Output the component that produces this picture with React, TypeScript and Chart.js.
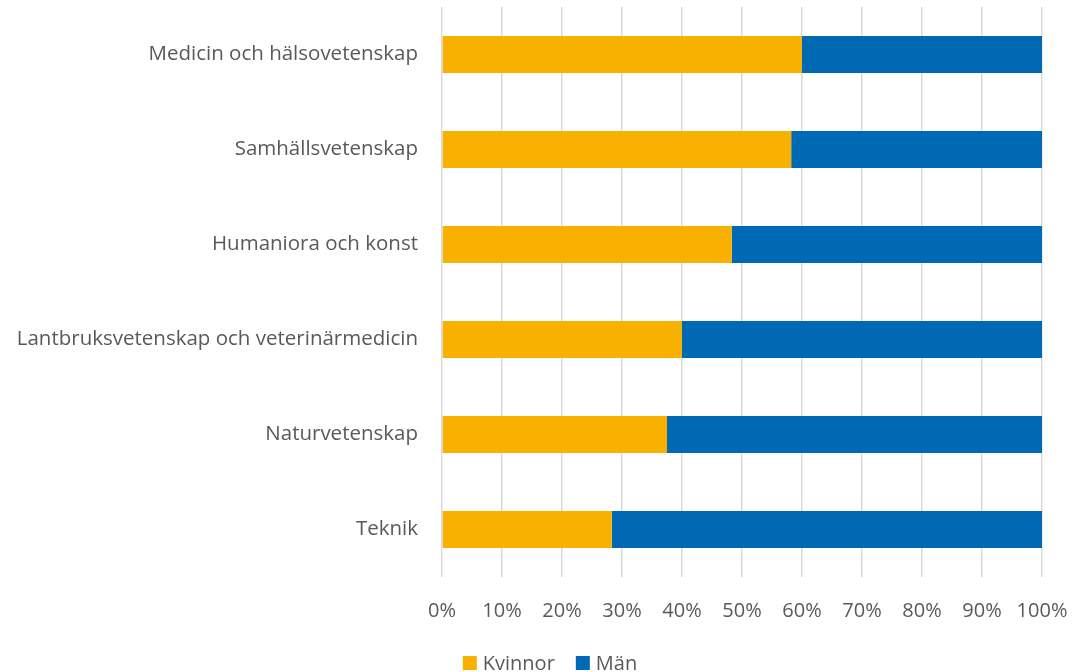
import React, { useEffect, useRef } from "react";
import { Chart, registerables } from "chart.js";

Chart.register(...registerables);

const categories: string[] = [
  "Medicin och hälsovetenskap",
  "Samhällsvetenskap",
  "Humaniora och konst",
  "Lantbruksvetenskap och veterinärmedicin",
  "Naturvetenskap",
  "Teknik",
];
const kvinnor: number[] = [60, 58.2, 48.3, 40, 37.5, 28.3];
const man: number[] = [40, 41.8, 51.7, 60, 62.5, 71.7];
const seriesNames: string[] = ["Kvinnor", "Män"];
const seriesColors: string[] = ["#F8B100", "#0069B4"];

const FONT = "'Open Sans', sans-serif";
const TEXT = "#595959";

const legendPlugin = {
  id: "bottomLegend",
  afterDraw(chart: any) {
    const ctx = chart.ctx as CanvasRenderingContext2D;
    ctx.save();
    ctx.font = `20px ${FONT}`;
    const box = 14;
    const gapText = 6;
    const gapItem = 21;
    const items = chart.data.datasets.map((d: any) => ({
      label: d.label as string,
      color: d.backgroundColor as string,
      w: ctx.measureText(d.label).width,
    }));
    const total =
      items.reduce((s: number, it: any) => s + box + gapText + it.w, 0) +
      gapItem * (items.length - 1);
    const centerX = 550;
    const cy = 663;
    let x = centerX - total / 2;
    ctx.textBaseline = "middle";
    ctx.textAlign = "left";
    for (const it of items) {
      ctx.fillStyle = it.color;
      ctx.fillRect(x, cy - box / 2, box, box);
      ctx.fillStyle = TEXT;
      ctx.fillText(it.label, x + box + gapText, cy + 1);
      x += box + gapText + it.w + gapItem;
    }
    ctx.restore();
  },
};

export default function App() {
  const ref = useRef<HTMLCanvasElement | null>(null);
  useEffect(() => {
    document.body.style.margin = "0";
    document.body.style.overflow = "hidden";
    const ctx = ref.current!;
    const chart = new Chart(ctx, {
      type: "bar",
      data: {
        labels: categories,
        datasets: [
          {
            label: seriesNames[0],
            data: kvinnor,
            backgroundColor: seriesColors[0],
            borderWidth: 0,
            categoryPercentage: 1,
            barPercentage: 0.39,
          },
          {
            label: seriesNames[1],
            data: man,
            backgroundColor: seriesColors[1],
            borderWidth: 0,
            categoryPercentage: 1,
            barPercentage: 0.39,
          },
        ],
      },
      plugins: [legendPlugin],
      options: {
        indexAxis: "y",
        animation: false,
        responsive: false,
        layout: { padding: { top: 7, right: 31, left: 0, bottom: 0 } },
        plugins: {
          tooltip: { enabled: false },
          legend: { display: false },
        },
        scales: {
          x: {
            stacked: true,
            min: 0,
            max: 100,
            ticks: {
              stepSize: 10,
              color: TEXT,
              font: { family: FONT, size: 20 },
              padding: 22,
              callback: (v: any) => v + "%",
            },
            grid: { color: "#d9d9d9", lineWidth: 1.5, drawTicks: false },
            border: { display: false },
            afterFit: (scale: any) => {
              scale.height = 95;
              scale.paddingLeft = 0;
              scale.paddingRight = 0;
            },
          },
          y: {
            stacked: true,
            ticks: {
              color: TEXT,
              font: { family: FONT, size: 20.5 },
              padding: 24,
            },
            grid: { display: false, drawTicks: false },
            border: { display: false },
            afterFit: (scale: any) => {
              scale.width = 442;
              scale.paddingTop = 0;
              scale.paddingBottom = 0;
            },
          },
        },
      },
    });
    return () => chart.destroy();
  }, []);
  return (
    <div style={{ width: 1073, height: 672, overflow: "hidden" }}>
      <canvas ref={ref} width={1073} height={672} style={{ display: "block" }} />
    </div>
  );
}
